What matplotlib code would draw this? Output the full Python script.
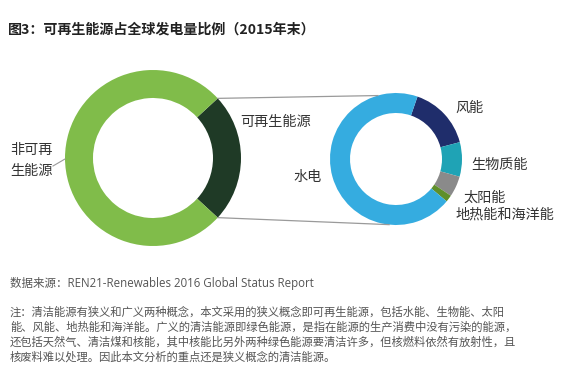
import numpy as np
import matplotlib
matplotlib.use("Agg")
import matplotlib.pyplot as plt

plt.rcParams['font.family'] = ['Noto Sans CJK SC', 'DejaVu Sans']

# ---- data ----
main_labels = ["可再生能源", "非可再生能源"]
main_values = [23.7, 76.3]           # % of global electricity, end 2015
main_colors = ["#1f3a26", "#80bc4a"]

ren_labels = ["风能", "生物质能", "太阳能", "地热能和海洋能", "水电"]
ren_values = [3.7, 2.0, 1.2, 0.4, 16.4]
ren_colors = ["#1f2d6b", "#1fa3b5", "#8a8a8a", "#5f8f2a", "#35ace0"]

title = "图3：可再生能源占全球发电量比例（2015年末）"
source = "数据来源：REN21-Renewables 2016 Global Status Report"
note_lines = [
    "注：清洁能源有狭义和广义两种概念，本文采用的狭义概念即可再生能源，包括水能、生物能、太阳",
    "能、风能、地热能和海洋能。广义的清洁能源即绿色能源，是指在能源的生产消费中没有污染的能源，",
    "还包括天然气、清洁煤和核能，其中核能比另外两种绿色能源要清洁许多，但核燃料依然有放射性，且",
    "核废料难以处理。因此本文分析的重点还是狭义概念的清洁能源。",
]

W, H = 569, 378
fig = plt.figure(figsize=(W / 100, H / 100), dpi=100)
ax = fig.add_axes([0, 0, 1, 1])

def Y(y):  # pixel-from-top -> data y
    return H - y

# left donut
c1 = (153, Y(158)); r1 = 88; w1 = 28
start1 = main_values[0] / sum(main_values) * 180
ax.pie(main_values, colors=main_colors, startangle=start1, counterclock=False,
       center=c1, radius=r1, wedgeprops=dict(width=w1, edgecolor='none'), frame=True)

# right donut
c2 = (396, Y(159)); r2 = 66; w2 = 20
ax.pie(ren_values, colors=ren_colors, startangle=71, counterclock=False,
       center=c2, radius=r2, wedgeprops=dict(width=w2, edgecolor='none'), frame=True)

ax.set_xlim(0, W)
ax.set_ylim(0, H)
ax.set_aspect('auto')
ax.axis('off')

# connector lines
a_top = np.deg2rad(start1)
a_bot = np.deg2rad(-start1)
p1 = (c1[0] + r1 * np.cos(a_top), c1[1] + r1 * np.sin(a_top))
p2 = (c1[0] + r1 * np.cos(a_bot), c1[1] + r1 * np.sin(a_bot))
q1 = (c2[0] + r2 * np.cos(np.deg2rad(106)), c2[1] + r2 * np.sin(np.deg2rad(106)))
q2 = (c2[0] + r2 * np.cos(np.deg2rad(-96)), c2[1] + r2 * np.sin(np.deg2rad(-96)))
ax.plot([p1[0], q1[0]], [p1[1], q1[1]], color="#9a9a9a", lw=0.9)
ax.plot([p2[0], q2[0]], [p2[1], q2[1]], color="#9a9a9a", lw=0.9)

# leader for non-renewable
ax.plot([53, 65], [Y(166), Y(159)], color="#9a9a9a", lw=0.8)

lab = dict(fontsize=10.2, color="#333333", va='center', ha='left')
ax.text(10, Y(150), "非可再", **lab)
ax.text(10, Y(171), "生能源", **lab)
ax.text(240, Y(122), main_labels[0], **lab)
ax.text(455, Y(108), ren_labels[0], **lab)
ax.text(471, Y(165), ren_labels[1], **lab)
ax.text(463, Y(198), ren_labels[2], **lab)
ax.text(456, Y(214), ren_labels[3], **lab)
ax.text(293, Y(177), ren_labels[4], **lab)

ax.text(8, Y(30), title, fontsize=10.1, fontweight='bold', color="#222222",
        va='center', ha='left')
ax.text(10, Y(284), source, fontsize=8.3, color="#555555", va='center', ha='left',
        family=['Open Sans', 'Noto Sans CJK SC'])
for i, line in enumerate(note_lines):
    ax.text(10, Y(312 + 15 * i), line, fontsize=8.15, color="#555555",
            va='center', ha='left')

fig.savefig("out.png", dpi=100, facecolor='white')
